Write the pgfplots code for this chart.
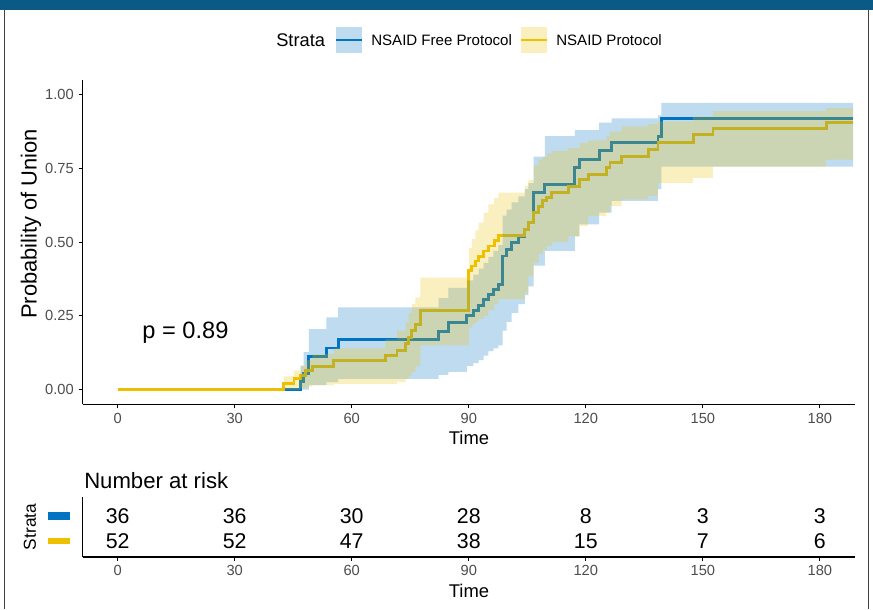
\documentclass[border=0pt]{standalone}
\usepackage{fontspec}
\setmainfont{Liberation Sans}
\usepackage{pgfplots}
\pgfplotsset{compat=1.18}
\usepackage{pgfplotstable}

\definecolor{jblue}{HTML}{0073C2}
\definecolor{jyel}{HTML}{EFC000}
\definecolor{tickgrey}{HTML}{4D4D4D}
\definecolor{hdr}{HTML}{0B5A86}

% Kaplan-Meier curves (time, probability of union)
\pgfplotstableread{
t S
0 0
46.9 0.028
47.7 0.056
49.0 0.113
53.5 0.141
56.5 0.169
82.3 0.196
84.8 0.226
89.5 0.250
91.2 0.267
92.5 0.284
93.8 0.305
95.0 0.324
96.3 0.340
97.6 0.357
98.7 0.453
99.7 0.476
101.0 0.500
102.7 0.520
104.4 0.544
105.3 0.566
106.6 0.668
109.5 0.696
117.2 0.752
118.3 0.780
123.4 0.810
126.6 0.837
138.5 0.857
139.4 0.918
188.5 0.918
}\blueT

\pgfplotstableread{
t S
0 0
42.6 0.019
45.2 0.036
46.9 0.049
48.2 0.064
49.9 0.079
55.4 0.098
68.6 0.115
71.6 0.132
73.8 0.155
74.6 0.177
75.4 0.200
76.3 0.222
77.6 0.267
90.0 0.404
90.8 0.419
91.7 0.436
92.5 0.452
93.8 0.470
95.0 0.487
96.5 0.505
97.6 0.521
104.4 0.544
105.3 0.566
106.6 0.600
107.9 0.622
109.0 0.640
110.0 0.651
111.3 0.668
115.5 0.690
118.5 0.713
120.6 0.730
125.3 0.752
126.2 0.769
129.2 0.790
136.0 0.814
138.5 0.838
147.5 0.865
152.6 0.884
181.6 0.905
188.5 0.905
}\yelT

% Confidence bands as closed step outlines: upper limit forward, lower limit back
\pgfplotstableread{
t y
0 0
46.9 0.080
47.7 0.127
49.0 0.205
53.5 0.245
56.5 0.279
82.3 0.310
84.8 0.345
89.5 0.370
91.2 0.390
92.5 0.410
93.8 0.430
95.0 0.450
96.3 0.470
97.6 0.490
98.7 0.590
99.7 0.610
101.0 0.635
102.7 0.655
104.4 0.680
105.3 0.700
106.6 0.790
109.5 0.860
117.2 0.880
118.3 0.880
123.4 0.905
126.6 0.920
138.5 0.930
139.4 0.972
188.5 0.972
188.5 0.756
139.4 0.680
138.5 0.640
126.6 0.600
123.4 0.560
118.3 0.520
117.2 0.470
109.5 0.420
106.6 0.350
105.3 0.320
104.4 0.290
102.7 0.260
101.0 0.230
99.7 0.200
98.7 0.150
97.6 0.140
96.3 0.130
95.0 0.115
93.8 0.100
92.5 0.090
91.2 0.080
89.5 0.060
84.8 0.050
82.3 0.036
56.5 0.025
53.5 0.015
49.0 0.000
47.7 0.000
46.9 0.000
0 0
}\blueBand

\pgfplotstableread{
t y
0 0
42.6 0.045
45.2 0.064
46.9 0.081
48.2 0.100
49.9 0.120
55.4 0.140
68.6 0.170
71.6 0.200
73.8 0.230
74.6 0.260
75.4 0.290
76.3 0.313
77.6 0.380
90.0 0.480
90.8 0.510
91.7 0.540
92.5 0.566
93.8 0.600
95.0 0.628
96.5 0.650
97.6 0.668
104.4 0.690
105.3 0.710
106.6 0.760
107.9 0.780
109.0 0.790
110.0 0.800
111.3 0.810
115.5 0.820
118.5 0.837
120.6 0.845
125.3 0.860
126.2 0.875
129.2 0.893
136.0 0.900
138.5 0.910
147.5 0.927
152.6 0.944
181.6 0.955
188.5 0.955
188.5 0.780
181.6 0.756
152.6 0.718
147.5 0.700
138.5 0.656
136.0 0.645
129.2 0.622
126.2 0.600
125.3 0.589
120.6 0.555
118.5 0.520
115.5 0.500
111.3 0.487
110.0 0.475
109.0 0.460
107.9 0.430
106.6 0.385
105.3 0.330
104.4 0.307
97.6 0.290
96.5 0.270
95.0 0.250
93.8 0.240
92.5 0.230
91.7 0.220
90.8 0.210
90.0 0.150
77.6 0.080
76.3 0.060
75.4 0.047
74.6 0.035
73.8 0.025
71.6 0.019
68.6 0.019
55.4 0.015
49.9 0.010
48.2 0.005
46.9 0.000
45.2 0.000
42.6 0.000
0 0
}\yelBand

% Number at risk
\pgfplotstableread{
t r n
0 2 36
30 2 36
60 2 30
90 2 28
120 2 8
150 2 3
180 2 3
0 1 52
30 1 52
60 1 47
90 1 38
120 1 15
150 1 7
180 1 6
}\riskT

\pgfplotsset{
  kmaxis/.style={
    scale only axis, anchor=south west,
    width=579.375pt,
    xmin=-9, xmax=189,
    axis x line*=bottom, axis y line*=left,
    axis line style={line width=1pt, black},
    xtick={0,30,60,90,120,150,180},
    xticklabels={0,30,60,90,120,150,180},
    tick align=outside, major tick length=3pt,
    tick style={line width=0.8pt, black},
    ticklabel style={font=\fontsize{11}{13}\selectfont, text=tickgrey},
  }
}

\begin{document}
\begin{tikzpicture}
\fill[white] (0,0) rectangle (654.75pt,456.75pt);
\fill[hdr] (0,449.25pt) rectangle (654.75pt,456.75pt);
\draw[black!75, line width=0.75pt] (3.4pt,0) -- (3.4pt,449.25pt);
\draw[black!75, line width=0.75pt] (651pt,0) -- (651pt,449.25pt);

% ---------- legend ----------
\node[anchor=base west, inner sep=0, font=\fontsize{13.7}{16}\selectfont] at (207pt,421.85pt) {Strata};
\fill[jblue, opacity=0.25] (252pt,417pt) rectangle (271.5pt,436.5pt);
\draw[jblue, line width=2.2pt] (252pt,426.75pt) -- (271.5pt,426.75pt);
\node[anchor=base west, inner sep=0, font=\fontsize{11.3}{14}\selectfont] at (278.25pt,422.6pt) {NSAID Free Protocol};
\fill[jyel, opacity=0.25] (390.75pt,417pt) rectangle (410.25pt,436.5pt);
\draw[jyel, line width=2.2pt] (390.75pt,426.75pt) -- (410.25pt,426.75pt);
\node[anchor=base west, inner sep=0, font=\fontsize{11.3}{14}\selectfont] at (417pt,422.6pt) {NSAID Protocol};

% ---------- survival plot ----------
\begin{axis}[kmaxis,
  at={(61.875pt,153.525pt)}, height=243.225pt,
  ymin=-0.05, ymax=1.05,
  ytick={0,0.25,0.5,0.75,1},
  yticklabels={0.00,0.25,0.50,0.75,1.00},
]
\addplot[jblue, line width=2.2pt, const plot, forget plot] table[x=t,y=S]{\blueT};
\addplot[jyel, line width=2.2pt, const plot, forget plot] table[x=t,y=S]{\yelT};
\addplot[fill=jblue, fill opacity=0.25, draw=none, const plot, forget plot] table[x=t,y=y]{\blueBand};
\addplot[fill=jyel, fill opacity=0.25, draw=none, const plot, forget plot] table[x=t,y=y]{\yelBand};
\node[anchor=base west, inner sep=0, font=\fontsize{17.7}{20}\selectfont] at (axis cs:6.3,0.172) {p = 0.89};
\end{axis}

\node[font=\fontsize{13.8}{16}\selectfont, inner sep=0, anchor=base] at (351.75pt,123.3pt) {Time};
\node[font=\fontsize{16.4}{18}\selectfont, inner sep=0, rotate=90] at (23.25pt,288.75pt) {Probability of Union};

% ---------- risk table ----------
\node[anchor=base west, inner sep=0, font=\fontsize{16.6}{19}\selectfont] at (63pt,90.75pt) {Number at risk};
\begin{axis}[kmaxis,
  at={(61.875pt,39pt)}, height=45pt,
  ymin=0.36, ymax=2.76, ytick=\empty,
]
\addplot[draw=none, mark=none, nodes near coords, point meta=explicit symbolic,
  every node near coord/.append style={anchor=center, inner sep=0, font=\fontsize{16}{18}\selectfont, text=black}]
  table[x=t, y=r, meta=n]{\riskT};
\end{axis}
\fill[jblue] (36pt,67.1pt) rectangle (52.5pt,72.4pt);
\fill[jyel] (36pt,48.4pt) rectangle (52.5pt,53.6pt);
\node[font=\fontsize{13}{15}\selectfont, inner sep=0, rotate=90] at (22.5pt,61.5pt) {Strata};
\node[font=\fontsize{13.8}{16}\selectfont, inner sep=0, anchor=base] at (351.75pt,8.55pt) {Time};
\end{tikzpicture}
\end{document}
